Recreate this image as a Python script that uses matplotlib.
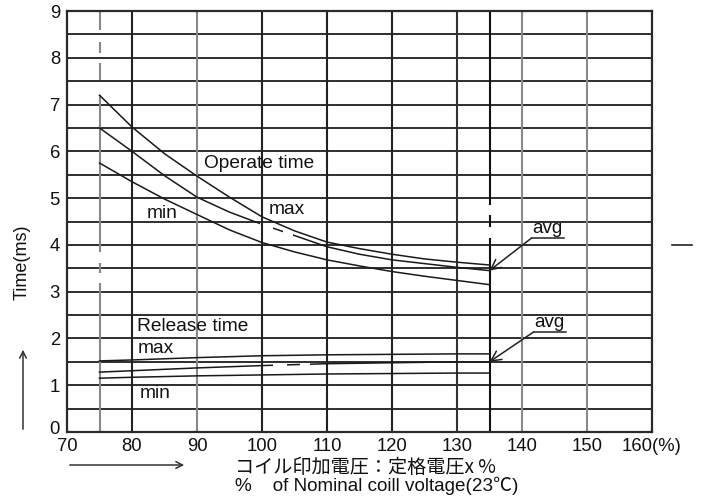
import matplotlib
matplotlib.use("Agg")
import matplotlib.pyplot as plt
import matplotlib.transforms as mtransforms
from matplotlib.patches import Rectangle
from matplotlib.lines import Line2D

plt.rcParams['font.family'] = ['Liberation Sans', 'Noto Sans CJK JP', 'DejaVu Sans']

# ---- data ----
x_op = [75, 80, 85, 90, 95, 100, 105, 110, 115, 120, 125, 130, 135]
op_max = [7.2, 6.52, 5.95, 5.47, 5.02, 4.6, 4.3, 4.06, 3.92, 3.8, 3.7, 3.63, 3.57]
op_avg = [6.5, 6.0, 5.48, 5.02, 4.7, 4.44, 4.2, 3.96, 3.8, 3.68, 3.6, 3.52, 3.45]
op_min = [5.75, 5.35, 4.98, 4.65, 4.32, 4.05, 3.85, 3.68, 3.55, 3.43, 3.33, 3.24, 3.15]

x_rel = [75, 80, 90, 100, 110, 120, 130, 135]
rel_max = [1.52, 1.54, 1.59, 1.63, 1.65, 1.66, 1.67, 1.67]
rel_avg = [1.28, 1.31, 1.37, 1.42, 1.46, 1.48, 1.5, 1.5]
rel_min = [1.15, 1.17, 1.2, 1.22, 1.24, 1.25, 1.26, 1.26]

x_ticks = [70, 80, 90, 100, 110, 120, 130, 140, 150, 160]
x_ticklabels = ['70', '80', '90', '100', '110', '120', '130', '140', '150', '160(%)']
y_ticks = list(range(0, 10))

fig = plt.figure(figsize=(7.07, 4.97), dpi=100)
ax = fig.add_axes([67/707, 1-432/497, 585/707, 421/497])
ax.set_xlim(70, 160)
ax.set_ylim(0, 9)

# grid
for yv in [i * 0.5 for i in range(1, 18)]:
    ax.axhline(yv, color='#2e2e2e', lw=1.4, zorder=1)
for xv, c in [(80, '#222'), (90, '#888'), (100, '#222'), (110, '#222'),
              (120, '#222'), (130, '#333'), (140, '#8a8a8a'), (150, '#8a8a8a')]:
    ax.axvline(xv, color=c, lw=1.5, zorder=1)

def vsegs(xv, segs, color):
    for a, b in segs:
        ax.plot([xv, xv], [a, b], color=color, lw=1.5, zorder=1, solid_capstyle='butt')

vsegs(75, [(0, 3.18), (3.40, 3.61), (3.85, 7.2), (7.52, 7.88), (8.10, 8.33), (8.59, 8.97)], '#888')
vsegs(135, [(0, 4.15), (4.38, 4.64), (4.85, 9)], '#111')

for s in ax.spines.values():
    s.set_color('#2a2a2a')
    s.set_linewidth(1.6)

ax.set_xticks(x_ticks)
ax.set_xticklabels(x_ticklabels)
ax.set_yticks(y_ticks)
ax.tick_params(length=0, labelsize=13.3, colors='#111')
ax.tick_params(axis='x', pad=4)
ax.tick_params(axis='y', pad=5)
ax.get_xticklabels()[-1].set_x(160.8)
# raise the "0" label slightly, as in the reference
lab0 = ax.get_yticklabels()[0]
lab0.set_transform(lab0.get_transform() +
                   mtransforms.ScaledTranslation(0, 5/100, fig.dpi_scale_trans))

line_kw = dict(color='#1a1a1a', lw=1.1, zorder=3)

def draw_gapped(x, y, gaps):
    edges = [60] + [g for pair in gaps for g in pair] + [170]
    for a, b in zip(edges[::2], edges[1::2]):
        ln, = ax.plot(x, y, **line_kw)
        rect = Rectangle((a, -1), b - a, 12, transform=ax.transData)
        ln.set_clip_path(rect)

ax.plot(x_op, op_max, **line_kw)
draw_gapped(x_op, op_avg, [(99.7, 101.7), (103.2, 104.8)])
ax.plot(x_op, op_min, **line_kw)

ax.plot(x_rel, rel_max, **line_kw)
draw_gapped(x_rel, rel_avg, [(101.7, 103.8), (105.8, 107.4)])
ax.plot(x_rel, rel_min, **line_kw)

# texts
tkw = dict(fontsize=13.8, color='#111', va='center', ha='left', zorder=5)
ax.text(91.1, 5.75, 'Operate time', **tkw)
ax.text(101.1, 4.76, 'max', **tkw)
ax.text(82.3, 4.68, 'min', **tkw)
ax.text(80.8, 2.26, 'Release time', **tkw)
ax.text(80.8, 1.79, 'max', **tkw)
ax.text(81.2, 0.83, 'min', **tkw)

# avg callouts
for tx, ty, uy, hy in [(141.5, 4.34, 4.15, 3.45), (141.8, 2.35, 2.14, 1.5)]:
    ax.text(tx + 0.1, ty, 'avg', fontsize=13.5, color='#111', va='center', ha='left', zorder=5)
    ax.plot([tx, tx + 5.0], [uy, uy], color='#222', lw=1.1, zorder=4)
    ax.annotate('', xy=(135, hy), xytext=(tx, uy),
                arrowprops=dict(arrowstyle='->', lw=1.1, color='#222',
                                mutation_scale=18, shrinkA=0, shrinkB=0), zorder=4)

# y label and arrows
fig.text(22/707, 1-262/497, 'Time(ms)', rotation=90, fontsize=13,
         ha='center', va='center', color='#111')
fig.add_artist(Line2D([672/707, 692/707], [1-245/497, 1-245/497], color='#222', lw=1.2))
fig.patches.append(matplotlib.patches.FancyArrowPatch(
    (23/707, 1-432/497), (23/707, 1-347/497), transform=fig.transFigure,
    arrowstyle='->', mutation_scale=12, lw=1.1, color='#333'))
fig.patches.append(matplotlib.patches.FancyArrowPatch(
    (67/707, 1-465/497), (187/707, 1-465/497), transform=fig.transFigure,
    arrowstyle='->', mutation_scale=12, lw=1.1, color='#333'))

fig.text(235/707, 1-467/497, 'コイル印加電圧：定格電圧x %', fontsize=13.8,
         family=['Noto Sans CJK JP', 'DejaVu Sans'], ha='left', va='center', color='#111')
fig.text(235/707, 1-486/497, '%    of Nominal coill voltage(23℃)', fontsize=13.6,
         family=['Liberation Sans', 'Noto Sans CJK JP', 'DejaVu Sans'],
         ha='left', va='center', color='#111')

fig.savefig('out.png', dpi=100)
